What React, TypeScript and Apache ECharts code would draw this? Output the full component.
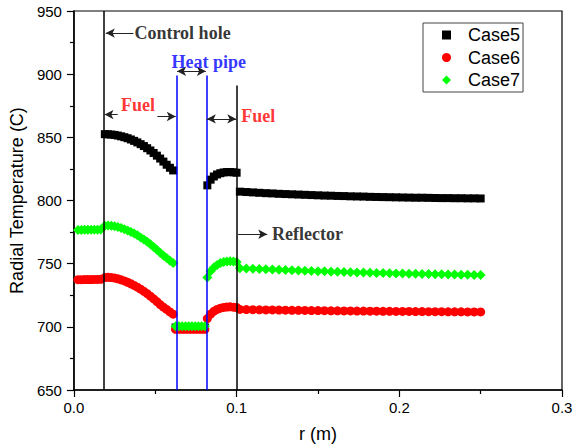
import React, { useEffect, useRef } from "react";
import * as echarts from "echarts";

// ---- radial positions (m) per region ----
const rControl = [0.0025, 0.0045, 0.0065, 0.0085, 0.0105, 0.0125, 0.0145, 0.0165];
const rFuelInner = [
  0.019, 0.021, 0.023, 0.025, 0.027, 0.029, 0.031, 0.033, 0.035, 0.037, 0.039,
  0.041, 0.043, 0.045, 0.047, 0.049, 0.051, 0.053, 0.055, 0.057, 0.059, 0.061,
];
const rHeatPipe = [0.0625, 0.0645, 0.0665, 0.0685, 0.0705, 0.0725, 0.0745, 0.0765, 0.0785, 0.0805];
const rFuelOuter = [0.082, 0.084, 0.086, 0.088, 0.09, 0.092, 0.094, 0.096, 0.098, 0.1];
const rReflector = [
  0.102, 0.106, 0.11, 0.114, 0.118, 0.122, 0.126, 0.13, 0.134, 0.138, 0.142,
  0.146, 0.15, 0.154, 0.158, 0.162, 0.166, 0.17, 0.174, 0.178, 0.182, 0.186,
  0.19, 0.194, 0.198, 0.202, 0.206, 0.21, 0.214, 0.218, 0.222, 0.226, 0.23,
  0.234, 0.238, 0.242, 0.246, 0.25,
];

// ---- Case5 (°C) ----
const case5FuelInner = [
  852.5, 852.4, 852.2, 851.9, 851.4, 850.8, 850.1, 849.3, 848.3, 847.2, 846.0,
  844.6, 843.1, 841.4, 839.6, 837.6, 835.5, 833.2, 830.8, 828.3, 825.9, 823.8,
];
const case5HeatPipe = [699.5, 699.5, 699.5, 699.5, 699.5, 699.5, 699.5, 699.5, 699.5, 699.5];
const case5FuelOuter = [812.0, 816.5, 819.0, 820.6, 821.6, 822.2, 822.5, 822.5, 822.3, 822.0];
const case5Reflector = [
  807.0, 806.7, 806.4, 806.1, 805.8, 805.6, 805.3, 805.1, 804.9, 804.7, 804.5,
  804.3, 804.1, 803.9, 803.8, 803.6, 803.5, 803.3, 803.2, 803.1, 802.9, 802.8,
  802.7, 802.6, 802.5, 802.4, 802.3, 802.2, 802.2, 802.1, 802.0, 801.9, 801.9,
  801.8, 801.8, 801.7, 801.7, 801.6,
];

// ---- Case6 (°C) ----
const case6Control = [737.3, 737.3, 737.4, 737.4, 737.4, 737.5, 737.5, 737.6];
const case6FuelInner = [
  739.0, 739.2, 739.0, 738.6, 738.0, 737.2, 736.3, 735.3, 734.1, 732.8, 731.4,
  729.8, 728.1, 726.3, 724.3, 722.2, 720.0, 717.6, 715.6, 713.8, 711.8, 710.0,
];
const case6HeatPipe = [698.0, 698.0, 698.0, 698.0, 698.0, 698.0, 698.0, 698.0, 698.0, 698.0];
const case6FuelOuter = [706.5, 710.0, 712.3, 713.8, 714.8, 715.4, 715.7, 715.8, 715.6, 715.3];
const case6Reflector = [
  713.8, 713.7, 713.6, 713.5, 713.4, 713.4, 713.3, 713.2, 713.1, 713.1, 713.0,
  712.9, 712.9, 712.8, 712.7, 712.7, 712.6, 712.6, 712.5, 712.5, 712.4, 712.4,
  712.3, 712.3, 712.2, 712.2, 712.2, 712.1, 712.1, 712.0, 712.0, 712.0, 711.9,
  711.9, 711.9, 711.8, 711.8, 711.8,
];

// ---- Case7 (°C) ----
const case7Control = [776.7, 776.7, 776.8, 776.8, 776.8, 776.9, 776.9, 777.0];
const case7FuelInner = [
  780.0, 780.2, 780.0, 779.6, 779.0, 778.2, 777.3, 776.3, 775.1, 773.8, 772.4,
  770.8, 769.1, 767.3, 765.3, 763.2, 761.0, 758.7, 756.5, 754.4, 752.4, 750.5,
];
const case7HeatPipe = [700.5, 700.5, 700.5, 700.5, 700.5, 700.5, 700.5, 700.5, 700.5, 700.5];
const case7FuelOuter = [739.0, 744.0, 747.0, 749.0, 750.5, 751.3, 751.8, 752.0, 751.8, 751.3];
const case7Reflector = [
  746.3, 746.1, 745.9, 745.7, 745.5, 745.3, 745.1, 744.9, 744.7, 744.6, 744.4,
  744.2, 744.0, 743.9, 743.7, 743.6, 743.4, 743.3, 743.1, 743.0, 742.9, 742.7,
  742.6, 742.5, 742.3, 742.2, 742.1, 742.0, 741.9, 741.8, 741.7, 741.6, 741.5,
  741.4, 741.3, 741.2, 741.1, 741.0,
];

const seriesNames = ["Case5", "Case6", "Case7"];

// region boundaries (m)
const controlHoleEdge = 0.0182;
const heatPipeInner = 0.0631;
const heatPipeOuter = 0.0814;
const reflectorEdge = 0.1002;

const zip = (rs: number[], vs: number[]) => rs.map((r, i) => [r, vs[i]]);

export default function App() {
  const ref = useRef<HTMLDivElement>(null);

  useEffect(() => {
    if (!ref.current) return;
    const chart = echarts.init(ref.current, null, { renderer: "svg" });

    const case5 = [
      ...zip(rFuelInner, case5FuelInner),
      ...zip(rHeatPipe, case5HeatPipe),
      ...zip(rFuelOuter, case5FuelOuter),
      ...zip(rReflector, case5Reflector),
    ];
    const case6 = [
      ...zip(rControl, case6Control),
      ...zip(rFuelInner, case6FuelInner),
      ...zip(rHeatPipe, case6HeatPipe),
      ...zip(rFuelOuter, case6FuelOuter),
      ...zip(rReflector, case6Reflector),
    ];
    const case7 = [
      ...zip(rControl, case7Control),
      ...zip(rFuelInner, case7FuelInner),
      ...zip(rHeatPipe, case7HeatPipe),
      ...zip(rFuelOuter, case7FuelOuter),
      ...zip(rReflector, case7Reflector),
    ];

    const serif = "'Liberation Serif', 'Times New Roman', serif";
    const sans = "'Liberation Sans', Arial, sans-serif";

    const texts = [
      { r: 0.0372, v: 932.5, text: "Control hole", color: "#000000" },
      { r: 0.06, v: 909.7, text: "Heat pipe", color: "#0000ff" },
      { r: 0.029, v: 875.4, text: "Fuel", color: "#ff0000" },
      { r: 0.1029, v: 866.5, text: "Fuel", color: "#ff0000" },
      { r: 0.1217, v: 773.3, text: "Reflector", color: "#000000" },
    ];

    const vLine = (x: number, y1: number, color: string) => [
      { coord: [x, 650], symbol: "none", lineStyle: { color, width: 1.5, type: "solid" } },
      { coord: [x, y1], symbol: "none" },
    ];
    const arrow = (x1: number, x2: number, y: number, both: boolean) => [
      {
        coord: [x1, y],
        symbol: both ? "arrow" : "none",
        lineStyle: { color: "#222", width: 1, type: "solid" },
      },
      { coord: [x2, y], symbol: "arrow" },
    ];

    chart.setOption({
      animation: false,
      backgroundColor: "#ffffff",
      grid: {
        left: 72,
        right: 20,
        top: 11,
        bottom: 55,
        show: true,
        borderColor: "#000",
        borderWidth: 1.2,
        backgroundColor: "transparent",
      },
      legend: {
        data: [
          { name: "Case5", icon: "rect", itemStyle: { color: "#000" } },
          { name: "Case6", icon: "circle" },
          { name: "Case7", icon: "diamond" },
        ],
        orient: "vertical",
        left: 423,
        top: 23,
        padding: [3, 3, 3, 19],
        itemGap: 4.5,
        itemWidth: 9,
        itemHeight: 9,
        symbolKeepAspect: true,
        borderColor: "#444",
        borderWidth: 1,
        textStyle: { fontFamily: sans, fontSize: 18, color: "#000", padding: [0, 0, 0, 12] },
      },
      xAxis: {
        type: "value",
        min: 0,
        max: 0.3,
        interval: 0.1,
        name: "r (m)",
        nameLocation: "middle",
        nameGap: 35,
        nameTextStyle: { fontFamily: sans, fontSize: 18, color: "#000" },
        axisLine: { show: true, onZero: false, lineStyle: { color: "#000", width: 1.5 } },
        axisTick: { show: true, inside: false, length: 7, lineStyle: { color: "#000", width: 1.2 } },
        minorTick: { show: true, splitNumber: 2, length: 4, lineStyle: { color: "#000", width: 1.2 } },
        splitLine: { show: false },
        axisLabel: {
          fontFamily: sans,
          fontSize: 15,
          color: "#000",
          margin: 10,
          formatter: (v: number) => v.toFixed(1),
        },
      },
      yAxis: {
        type: "value",
        min: 650,
        max: 950,
        interval: 50,
        name: "Radial Temperature (C)",
        nameLocation: "middle",
        nameGap: 36,
        nameTextStyle: { fontFamily: sans, fontSize: 18, color: "#000" },
        axisLine: { show: true, onZero: false, lineStyle: { color: "#000", width: 1.5 } },
        axisTick: { show: true, inside: false, length: 7, lineStyle: { color: "#000", width: 1.2 } },
        minorTick: { show: true, splitNumber: 2, length: 4, lineStyle: { color: "#000", width: 1.2 } },
        splitLine: { show: false },
        axisLabel: { fontFamily: sans, fontSize: 15, color: "#000", margin: 12 },
      },
      series: [
        {
          name: "Case5",
          type: "scatter",
          symbol: "rect",
          symbolSize: 8,
          itemStyle: { color: "#000000", opacity: 1 },
          data: case5,
          z: 2,
        },
        {
          name: "Case6",
          type: "scatter",
          symbol: "circle",
          symbolSize: 9,
          itemStyle: { color: "#ff0000", opacity: 1 },
          data: case6,
          z: 2,
        },
        {
          name: "Case7",
          type: "scatter",
          symbol: "diamond",
          symbolSize: 10,
          itemStyle: { color: "#00ff00", opacity: 1 },
          data: case7,
          z: 2,
        },
        {
          name: "annotations",
          type: "scatter",
          symbol: "circle",
          symbolSize: 0,
          silent: true,
          z: 5,
          itemStyle: { color: "transparent" },
          data: texts.map((t) => ({
            value: [t.r, t.v],
            label: {
              show: true,
              position: "right",
              distance: 0,
              formatter: t.text,
              color: t.color,
              fontFamily: serif,
              fontWeight: "bold",
              fontSize: 18,
            },
          })),
          markLine: {
            silent: true,
            animation: false,
            symbolSize: [7, 9],
            label: { show: false },
            emphasis: { disabled: true },
            data: [
              vLine(controlHoleEdge, 950, "#000000"),
              vLine(heatPipeInner, 899, "#0000ff"),
              vLine(heatPipeOuter, 899, "#0000ff"),
              vLine(reflectorEdge, 891, "#000000"),
              arrow(0.0366, 0.0196, 932.5, false),
              arrow(0.0634, 0.0811, 902.3, true),
              arrow(0.0269, 0.0188, 868.0, false),
              arrow(0.0513, 0.0626, 866.5, false),
              arrow(0.0817, 0.0998, 864.6, true),
              arrow(0.1009, 0.1188, 773.3, false),
            ],
          },
        },
      ],
    });

    return () => chart.dispose();
  }, []);

  return (
    <div
      ref={ref}
      style={{ position: "fixed", left: 0, top: 0, width: 582, height: 448, background: "#fff" }}
    />
  );
}
